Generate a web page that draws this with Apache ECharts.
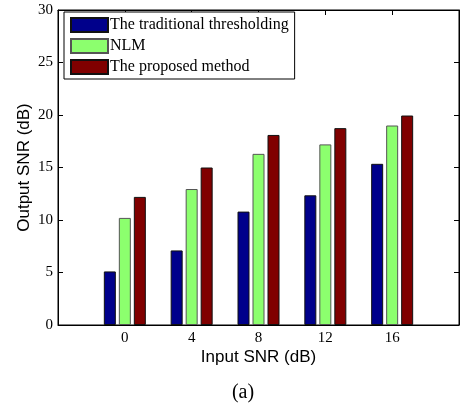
<!DOCTYPE html>
<html><head><meta charset="utf-8">
<script src="https://cdn.jsdelivr.net/npm/echarts@6/dist/echarts.min.js"></script>
<style>html,body{margin:0;padding:0;background:#fff;}#c{width:462px;height:409px;}</style>
</head><body><div id="c"></div>
<script>
const inputSNR = [0, 4, 8, 12, 16];
const traditional = [5.1, 7.1, 10.8, 12.35, 15.35];
const nlm = [10.2, 12.95, 16.3, 17.2, 19.0];
const proposed = [12.2, 15.0, 18.1, 18.75, 19.95];
const seriesNames = ['The traditional thresholding', 'NLM', 'The proposed method'];
const colors = ['#00008b', '#8cff6e', '#800000'];
const borders = ['#111', '#555', '#111'];
const allData = [traditional, nlm, proposed];

const chart = echarts.init(document.getElementById('c'));
const serif = 'Liberation Serif, Times New Roman, serif';
const sans = 'Liberation Sans, Arial, sans-serif';
const xBase = {type:'value', min:-4, max:20, interval:4, splitLine:{show:false}};
const yBase = {type:'value', min:0, max:30, interval:5, splitLine:{show:false}};
const line = {show:true, onZero:false, lineStyle:{color:'#000'}};
const tick = {inside:true, length:5, lineStyle:{color:'#000'}};
chart.setOption({
  animation:false,
  grid:{left:58, right:3, top:10, bottom:84, show:true, borderColor:'#000', borderWidth:1},
  legend:{
    data:seriesNames, orient:'vertical', left:64, top:12, itemWidth:37, itemHeight:14, itemGap:5,
    icon:'rect',
    borderColor:'#000', borderWidth:1, backgroundColor:'#fff', padding:[5,6,4,6],
    textStyle:{fontFamily:serif, fontSize:16, color:'#000', padding:[0,0,0,-3]}
  },
  xAxis:[
    Object.assign({}, xBase, {position:'bottom',
      name:'Input SNR (dB)', nameLocation:'middle', nameGap:24, nameMoveOverlap:false,
      nameTextStyle:{fontFamily:sans, fontSize:17, color:'#000'},
      axisLine:line, axisTick:tick,
      axisLabel:{fontFamily:serif, fontSize:15, color:'#000', margin:6,
        formatter:v=>inputSNR.indexOf(v)>=0 ? String(v) : ''}}),
    Object.assign({}, xBase, {position:'top',
      axisLine:line, axisTick:tick, axisLabel:{show:false}})
  ],
  yAxis:[
    Object.assign({}, yBase, {position:'left',
      name:'Output SNR (dB)', nameLocation:'middle', nameGap:25, nameMoveOverlap:false,
      nameTextStyle:{fontFamily:sans, fontSize:17, color:'#000'},
      axisLine:line, axisTick:tick,
      axisLabel:{fontFamily:serif, fontSize:15, color:'#000', margin:5}}),
    Object.assign({}, yBase, {position:'right',
      axisLine:line, axisTick:tick, axisLabel:{show:false}})
  ],
  graphic:[{type:'text', x:243, y:393, style:{text:'(a)', fontFamily:serif, fontSize:20, fill:'#000', textAlign:'center', textVerticalAlign:'middle'}}],
  series: seriesNames.map((n,i)=>({
    name:n, type:'bar', xAxisIndex:0, yAxisIndex:0,
    barWidth:12, barGap:'25%',
    itemStyle:{color:colors[i], borderColor:borders[i], borderWidth:1},
    data: inputSNR.map((x,j)=>[x, allData[i][j]])
  }))
});
</script></body></html>
